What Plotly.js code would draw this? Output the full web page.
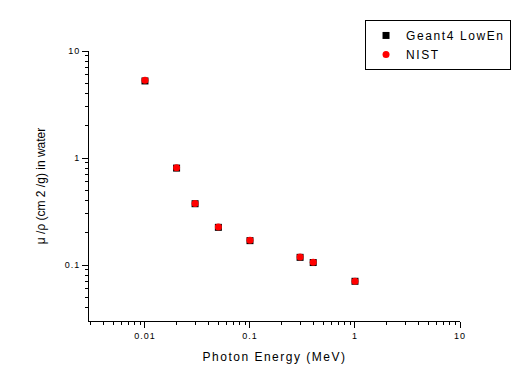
<!DOCTYPE html>
<html><head><meta charset="utf-8">
<script src="https://cdn.plot.ly/plotly-3.0.1.min.js"></script>
<style>body{margin:0;background:#fff}#c{width:531px;height:383px}
.legendtext{letter-spacing:1.6px}
.xtitle{letter-spacing:1.5px}
.xtick text,.ytick text{letter-spacing:1px}
</style>
</head><body><div id="c"></div>
<script>
const energy = [0.01, 0.02, 0.03, 0.05, 0.1, 0.3, 0.4, 1.0];
const geant4 = [5.25, 0.805, 0.374, 0.225, 0.169, 0.118, 0.1055, 0.0705];
const nist = [5.33, 0.8096, 0.3756, 0.2269, 0.1707, 0.1186, 0.1061, 0.0707];
const xTickVals = [0.01, 0.1, 1, 10];
const xTickText = ["0.01", "0.1", "1", "10"];
const yTickVals = [0.1, 1, 10];
const yTickText = ["0.1", "1", "10"];
const xMinorVals = [0.003,0.004,0.005,0.006,0.007,0.008,0.009,0.02,0.03,0.04,0.05,0.06,0.07,0.08,0.09,0.2,0.3,0.4,0.5,0.6,0.7,0.8,0.9,2,3,4,5,6,7,8,9];
const yMinorVals = [0.04,0.05,0.06,0.07,0.08,0.09,0.2,0.3,0.4,0.5,0.6,0.7,0.8,0.9,2,3,4,5,6,7,8,9];

const font = {family: "Liberation Sans, Arial, sans-serif", color: "#000"};
const data = [
  {x: energy, y: geant4, name: "Geant4 LowEn", type: "scatter", mode: "markers",
   marker: {symbol: "square", size: 7, color: "#000"}},
  {x: energy, y: nist, name: "NIST", type: "scatter", mode: "markers",
   marker: {symbol: "circle", size: 7, color: "#ff0000"}}
];
const axisCommon = {type: "log", showgrid: false, zeroline: false, showline: true,
  linecolor: "#000", linewidth: 1, ticks: "outside", ticklen: 6, tickcolor: "#000",
  tickfont: Object.assign({size: 9}, font), mirror: false};
const layout = {
  width: 531, height: 383,
  margin: {l: 89, r: 71, t: 51, b: 62},
  paper_bgcolor: "#fff", plot_bgcolor: "#fff",
  showlegend: true,
  legend: {x: 0.744, y: 1.115, xanchor: "left", yanchor: "top",
    bordercolor: "#000", borderwidth: 1, bgcolor: "#fff",
    font: Object.assign({size: 12}, font), itemwidth: 30, tracegroupgap: 0},
  xaxis: Object.assign({}, axisCommon, {range: [-2.533, 1],
    tickvals: xTickVals, ticktext: xTickText,
    minor: {tickmode: "array", tickvals: xMinorVals, ticks: "outside", ticklen: 3, tickcolor: "#000", showgrid: false},
    title: {text: "Photon Energy (MeV)", font: Object.assign({size: 12}, font), standoff: 12}}),
  yaxis: Object.assign({}, axisCommon, {range: [-1.523, 1],
    tickvals: yTickVals, ticktext: yTickText,
    minor: {tickmode: "array", tickvals: yMinorVals, ticks: "outside", ticklen: 3, tickcolor: "#000", showgrid: false},
    title: {text: "μ /ρ (cm 2 /g) in water", font: Object.assign({size: 12}, font), standoff: 16}})
};
Plotly.newPlot("c", data, layout, {displayModeBar: false, staticPlot: true});
</script></body></html>
